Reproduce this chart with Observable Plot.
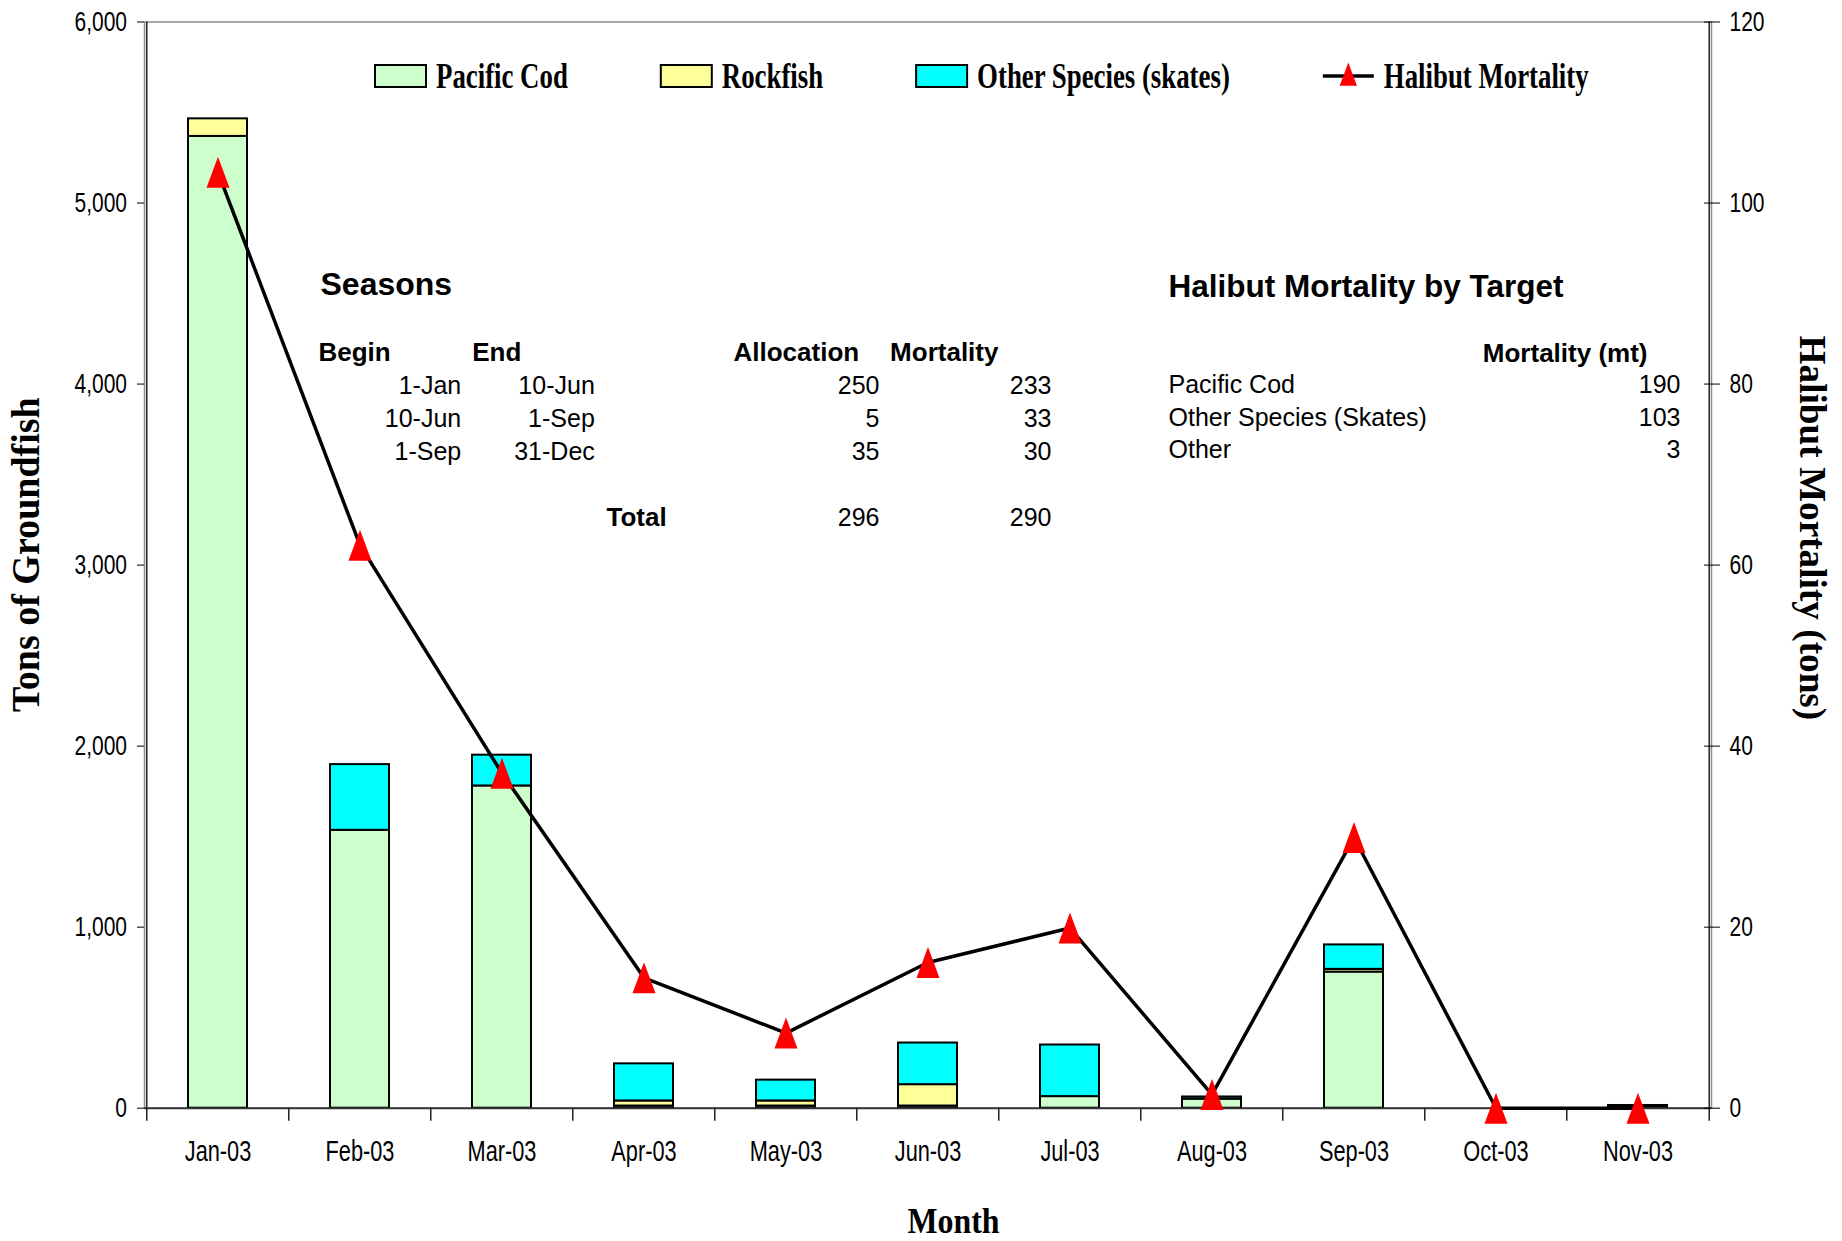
<!DOCTYPE html>
<html><head><meta charset="utf-8">
<script src="https://cdn.jsdelivr.net/npm/d3@7"></script>
<script src="https://cdn.jsdelivr.net/npm/@observablehq/plot@0.6"></script>
<style>html,body{margin:0;padding:0;background:#fff;overflow:hidden}</style>
</head><body><div id="chart"></div>
<script>
// ---------- data ----------
const months = ["Jan-03","Feb-03","Mar-03","Apr-03","May-03","Jun-03","Jul-03","Aug-03","Sep-03","Oct-03","Nov-03"];
const species = ["Pacific Cod","Rockfish","Other Species (skates)"];
const pacificCod   = [5368, 1535, 1780, 12, 12, 12, 64, 50, 752, 0, 10];
const rockfish     = [97, 0, 0, 28, 28, 118, 0, 0, 15, 0, 0];
const otherSpecies = [0, 363, 170, 205, 115, 230, 285, 12, 135, 0, 5];
const halibutMortality = [103.4, 62.2, 37.0, 14.4, 8.3, 16.1, 19.9, 1.5, 29.9, 0, 0];
const leftTicks  = [0, 1000, 2000, 3000, 4000, 5000, 6000];
const rightTicks = [0, 20, 40, 60, 80, 100, 120];

const seasonsTitle = "Seasons";
const seasonHeaders = ["Begin", "End", "Allocation", "Mortality"];
const seasonBegin = ["1-Jan", "10-Jun", "1-Sep"];
const seasonEnd = ["10-Jun", "1-Sep", "31-Dec"];
const seasonAllocation = [250, 5, 35];
const seasonMortality = [233, 33, 30];
const totalLabel = "Total";
const totalAllocation = 296;
const totalMortality = 290;

const targetTitle = "Halibut Mortality by Target";
const targetHeader = "Mortality (mt)";
const targetNames = ["Pacific Cod", "Other Species (Skates)", "Other"];
const targetMortality = [190, 103, 3];

const legendNames = ["Pacific Cod", "Rockfish", "Other Species (skates)", "Halibut Mortality"];
const yTitle = "Tons of Groundfish";
const y2Title = "Halibut Mortality (tons)";
const xTitle = "Month";

// ---------- layout / style ----------
const W = 1842, H = 1241, ML = 144, MR = 131, MT = 21.5, MB = 133.3;
const step = (W - ML - MR) / months.length;
const colors = ["#CCFFCC", "#FFFF99", "#00FFFF"];
const ratio = 6000 / 120;
const SANS = "'Liberation Sans', Arial, sans-serif";
const SERIF = "'Liberation Serif', 'Times New Roman', serif";

const stacked = [];
months.forEach((m, i) => {
  stacked.push({month: m, species: species[0], value: pacificCod[i]});
  stacked.push({month: m, species: species[1], value: rockfish[i]});
  stacked.push({month: m, species: species[2], value: otherSpecies[i]});
});
const halibut = months.map((m, i) => ({month: m, value: halibutMortality[i]}));

const tri = {draw(ctx) { ctx.moveTo(0, -15.5); ctx.lineTo(11.5, 15.5); ctx.lineTo(-11.5, 15.5); ctx.closePath(); }};

function label(text, {x, baseline, fs, weight = "normal", anchor = "start", lh = 1, family = SANS}) {
  return Plot.text([text], {
    text: d => d, frameAnchor: "top-left",
    dx: x - ML, dy: baseline - MT - 0.71 * lh * fs,
    lineAnchor: "top", lineHeight: lh, fontSize: fs, fontWeight: weight,
    textAnchor: anchor, fill: "black", fontFamily: family
  });
}

const rowFS = 25;
const seasonLH = 33.1 / rowFS, targetLH = 32.5 / rowFS;

const svg = Plot.plot({
  width: W, height: H,
  marginLeft: ML, marginRight: MR, marginTop: MT, marginBottom: MB,
  style: {fontFamily: SANS, background: "white", color: "black", overflow: "visible"},
  x: {domain: months, paddingInner: 0.588, paddingOuter: 0.294},
  y: {domain: [0, 6000]},
  color: {domain: species, range: colors},
  marks: [
    Plot.frame({stroke: "#8c8c8c", strokeWidth: 1.5}),
    Plot.barY(stacked, {x: "month", y: "value", fill: "species", stroke: "black", strokeWidth: 2}),
    Plot.ruleY([0], {stroke: "#333", strokeWidth: 2}),
    // axis lines and category boundary ticks
    Plot.ruleX([months[0]], {x: d => d, dx: -step / 2, insetBottom: -13, stroke: "#222", strokeWidth: 1.5}),
    Plot.ruleX([months[months.length - 1]], {x: d => d, dx: step / 2, insetBottom: -13, stroke: "#222", strokeWidth: 1.5}),
    Plot.ruleX(months.slice(1), {x: d => d, y1: 0, y2: 0, dx: -step / 2, insetBottom: -13, stroke: "#222", strokeWidth: 1.5}),
    // halibut line + markers
    Plot.line(halibut, {x: "month", y: d => d.value * ratio, stroke: "black", strokeWidth: 3.5}),
    Plot.dot(halibut, {x: "month", y: d => d.value * ratio, symbol: tri, fill: "#FF0000", stroke: "none"}),
    // axes
    Plot.axisX({anchor: "bottom", tickSize: 0, tickPadding: 32.4, fontSize: 29, label: null}),
    Plot.axisY(leftTicks, {anchor: "left", tickSize: 7, tickPadding: 10.5, tickFormat: d3.format(","), fontSize: 28, label: null}),
    Plot.axisY(rightTicks.map(d => d * ratio), {anchor: "right", tickSize: 16, dx: -8, tickFormat: () => "", label: null}),
    Plot.axisY(rightTicks.map(d => d * ratio), {anchor: "right", tickSize: 0, tickPadding: 18, tickFormat: d => d / ratio, fontSize: 28, label: null}),
    // axis titles
    Plot.text([yTitle], {text: d => d, frameAnchor: "left", textAnchor: "middle", lineAnchor: "middle", dx: 26.5 - ML, dy: -10.4, rotate: -90, fontSize: 39, fontWeight: "bold", fontFamily: SERIF, ariaDescription: "sx:0.975"}),
    Plot.text([y2Title], {text: d => d, frameAnchor: "right", textAnchor: "middle", lineAnchor: "middle", dx: 101, dy: -37.2, rotate: 90, fontSize: 38, fontWeight: "bold", fontFamily: SERIF, ariaDescription: "sx:0.98"}),
    Plot.text([xTitle], {text: d => d, frameAnchor: "bottom", textAnchor: "middle", dx: 25.5, dy: 124.5, lineAnchor: "bottom", fontSize: 36, fontWeight: "bold", fontFamily: SERIF, ariaDescription: "sx:0.885"}),
    // Seasons table
    label(seasonsTitle, {x: 320, baseline: 294, fs: 32, weight: "bold"}),
    label(seasonHeaders[0], {x: 318, baseline: 360.7, fs: 26, weight: "bold"}),
    label(seasonHeaders[1], {x: 471.7, baseline: 360.7, fs: 26, weight: "bold"}),
    label(seasonHeaders[2], {x: 733, baseline: 360.7, fs: 26, weight: "bold"}),
    label(seasonHeaders[3], {x: 889.6, baseline: 360.7, fs: 26, weight: "bold"}),
    label(seasonBegin.join("\n"), {x: 460.7, baseline: 393.3, fs: rowFS, anchor: "end", lh: seasonLH}),
    label(seasonEnd.join("\n"), {x: 594.3, baseline: 393.3, fs: rowFS, anchor: "end", lh: seasonLH}),
    label(seasonAllocation.concat(["", totalAllocation]).join("\n"), {x: 879, baseline: 393.3, fs: rowFS, anchor: "end", lh: seasonLH}),
    label(seasonMortality.concat(["", totalMortality]).join("\n"), {x: 1051, baseline: 393.3, fs: rowFS, anchor: "end", lh: seasonLH}),
    label(totalLabel, {x: 606, baseline: 525.7, fs: 26, weight: "bold"}),
    // Target table
    label(targetTitle, {x: 1168, baseline: 296.7, fs: 31.5, weight: "bold"}),
    label(targetHeader, {x: 1647, baseline: 361.7, fs: 26, weight: "bold", anchor: "end"}),
    label(targetNames.join("\n"), {x: 1168, baseline: 393, fs: rowFS, lh: targetLH}),
    label(targetMortality.join("\n"), {x: 1680, baseline: 393, fs: rowFS, anchor: "end", lh: targetLH})
  ]
});
document.getElementById("chart").appendChild(svg);

const root = d3.select(svg);
// condensed tick labels
root.selectAll('g[aria-label="x-axis tick label"] text, g[aria-label="y-axis tick label"] text').each(function () {
  const t = this.getAttribute("transform") || "";
  this.setAttribute("transform", t + " scale(0.75,1)");
});
root.selectAll('g[aria-description^="sx:"]').each(function () {
  const s = +this.getAttribute("aria-description").slice(3);
  d3.select(this).selectAll("text").each(function () {
    const t = this.getAttribute("transform") || "";
    this.setAttribute("transform", t + ` scale(${s},1)`);
  });
});

// legend (inside plot area)
const lg = root.append("g").attr("text-anchor", "start");
let lx = 375;
const cy = 76, sxLegend = 0.745;
legendNames.forEach((name, i) => {
  if (i < species.length) {
    lg.append("rect").attr("x", lx).attr("y", cy - 11).attr("width", 51).attr("height", 22)
      .attr("fill", colors[i]).attr("stroke", "black").attr("stroke-width", 2);
  } else {
    lg.append("line").attr("x1", lx).attr("x2", lx + 51).attr("y1", cy).attr("y2", cy)
      .attr("stroke", "black").attr("stroke-width", 3.5);
    lg.append("path").attr("d", d3.symbol(tri)()).attr("transform", `translate(${lx + 25.5},${cy - 2}) scale(0.75)`).attr("fill", "#FF0000");
  }
  const t = lg.append("text")
    .attr("text-anchor", "start")
    .attr("transform", `translate(${lx + 61},88.3) scale(${sxLegend},1)`)
    .attr("font-family", SERIF).attr("font-weight", "bold").attr("font-size", 36)
    .attr("fill", "black").text(name);
  lx = lx + 61 + t.node().getComputedTextLength() * sxLegend + 93;
});
</script></body></html>
